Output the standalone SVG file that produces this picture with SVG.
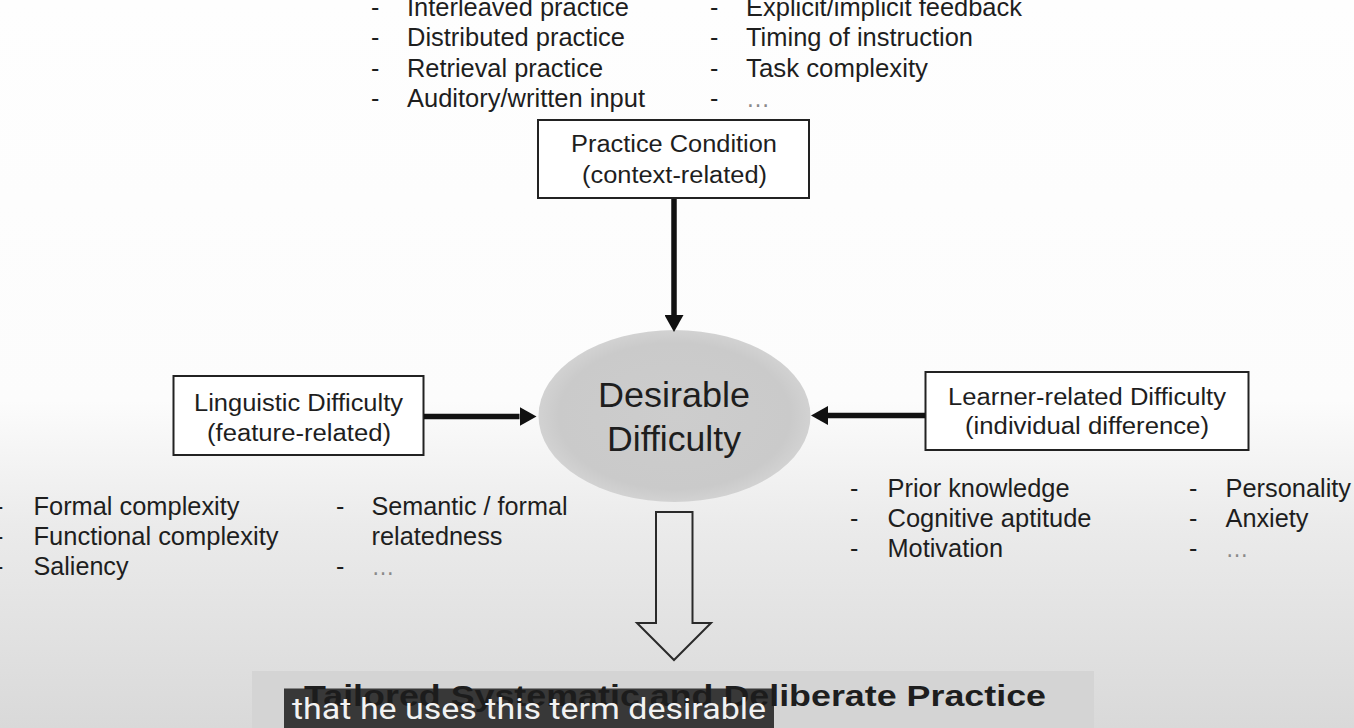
<svg xmlns="http://www.w3.org/2000/svg" width="1354" height="728" viewBox="0 0 1354 728">
<defs>
<linearGradient id="bg" x1="0" y1="0" x2="0" y2="1">
<stop offset="0" stop-color="#fefefe"/>
<stop offset="0.55" stop-color="#fcfcfc"/>
<stop offset="0.72" stop-color="#ebebeb"/>
<stop offset="1" stop-color="#d9d9d9"/>
</linearGradient>
<radialGradient id="ell" cx="0.5" cy="0.5" r="0.5">
<stop offset="0" stop-color="#cdcdcd"/>
<stop offset="0.85" stop-color="#cacaca"/>
<stop offset="1" stop-color="#d2d2d2"/>
</radialGradient>
<marker id="head" markerUnits="userSpaceOnUse" markerWidth="17" markerHeight="19" refX="0" refY="9.5" orient="auto">
<path d="M0,0 L17,9.5 L0,19 Z" fill="#111"/>
</marker>
</defs>
<style>
.t{font-family:"Liberation Sans",Arial,sans-serif;fill:#1e1e1e;}
.l{font-size:25px;}
.b{font-size:23.5px;}
.m{text-anchor:middle;}
.box{fill:#ffffff;stroke:#222;stroke-width:2;}
.dots{fill:#8a8a8a;}
.conn{stroke:#111;stroke-width:5.5;fill:none;}
</style>
<rect x="0" y="0" width="1354" height="728" fill="url(#bg)"/>

<g id="practice-list">
<text class="t l" x="371" y="15.5">-</text>
<text class="t l" x="407" y="15.5" textLength="222" lengthAdjust="spacingAndGlyphs">Interleaved practice</text>
<text class="t l" x="371" y="46">-</text>
<text class="t l" x="407" y="46" textLength="218" lengthAdjust="spacingAndGlyphs">Distributed practice</text>
<text class="t l" x="371" y="76.5">-</text>
<text class="t l" x="407" y="76.5" textLength="196" lengthAdjust="spacingAndGlyphs">Retrieval practice</text>
<text class="t l" x="371" y="107">-</text>
<text class="t l" x="407" y="107" textLength="238" lengthAdjust="spacingAndGlyphs">Auditory/written input</text>
<text class="t l" x="710" y="15.5">-</text>
<text class="t l" x="746" y="15.5" textLength="276" lengthAdjust="spacingAndGlyphs">Explicit/implicit feedback</text>
<text class="t l" x="710" y="46">-</text>
<text class="t l" x="746" y="46" textLength="227" lengthAdjust="spacingAndGlyphs">Timing of instruction</text>
<text class="t l" x="710" y="76.5">-</text>
<text class="t l" x="746" y="76.5" textLength="182" lengthAdjust="spacingAndGlyphs">Task complexity</text>
<text class="t l" x="710" y="107">-</text>
<text class="t l dots" x="746" y="107" textLength="24" lengthAdjust="spacingAndGlyphs">…</text>
</g>

<g id="practice-condition">
<rect class="box" x="538" y="120" width="271" height="78"/>
<text class="t b m" x="674" y="152" textLength="206" lengthAdjust="spacingAndGlyphs">Practice Condition</text>
<text class="t b m" x="674.5" y="183" textLength="185" lengthAdjust="spacingAndGlyphs">(context-related)</text>
</g>

<g id="linguistic-difficulty">
<rect class="box" x="173.5" y="376" width="250" height="79"/>
<text class="t b m" x="298.5" y="410.5" textLength="209" lengthAdjust="spacingAndGlyphs">Linguistic Difficulty</text>
<text class="t b m" x="299" y="441" textLength="184" lengthAdjust="spacingAndGlyphs">(feature-related)</text>
</g>

<g id="learner-difficulty">
<rect class="box" x="925.5" y="372" width="323" height="78"/>
<text class="t b m" x="1087" y="405" textLength="278" lengthAdjust="spacingAndGlyphs">Learner-related Difficulty</text>
<text class="t b m" x="1087" y="434" textLength="244" lengthAdjust="spacingAndGlyphs">(individual difference)</text>
</g>

<g id="desirable-difficulty">
<ellipse cx="674.5" cy="416" rx="136" ry="86" fill="url(#ell)"/>
<text class="t m" x="674" y="406.5" font-size="35" textLength="152" lengthAdjust="spacingAndGlyphs">Desirable</text>
<text class="t m" x="674" y="450.5" font-size="35" textLength="134" lengthAdjust="spacingAndGlyphs">Difficulty</text>
</g>

<g id="linguistic-list">
<text class="t l" x="-5" y="515">-</text>
<text class="t l" x="33.5" y="515" textLength="206" lengthAdjust="spacingAndGlyphs">Formal complexity</text>
<text class="t l" x="-5" y="545">-</text>
<text class="t l" x="33.5" y="545" textLength="245" lengthAdjust="spacingAndGlyphs">Functional complexity</text>
<text class="t l" x="-5" y="575">-</text>
<text class="t l" x="33.5" y="575" textLength="95" lengthAdjust="spacingAndGlyphs">Saliency</text>
<text class="t l" x="336" y="515">-</text>
<text class="t l" x="371.5" y="515" textLength="196" lengthAdjust="spacingAndGlyphs">Semantic / formal</text>
<text class="t l" x="371.5" y="545" textLength="131" lengthAdjust="spacingAndGlyphs">relatedness</text>
<text class="t l" x="336" y="575">-</text>
<text class="t l dots" x="371.5" y="575" textLength="23" lengthAdjust="spacingAndGlyphs">…</text>
</g>

<g id="learner-list">
<text class="t l" x="850" y="497">-</text>
<text class="t l" x="887.5" y="497" textLength="182" lengthAdjust="spacingAndGlyphs">Prior knowledge</text>
<text class="t l" x="850" y="527">-</text>
<text class="t l" x="887.5" y="527" textLength="204" lengthAdjust="spacingAndGlyphs">Cognitive aptitude</text>
<text class="t l" x="850" y="557">-</text>
<text class="t l" x="887.5" y="557" textLength="115.5" lengthAdjust="spacingAndGlyphs">Motivation</text>
<text class="t l" x="1189" y="497">-</text>
<text class="t l" x="1225.5" y="497" textLength="125.5" lengthAdjust="spacingAndGlyphs">Personality</text>
<text class="t l" x="1189" y="527">-</text>
<text class="t l" x="1225.5" y="527" textLength="83" lengthAdjust="spacingAndGlyphs">Anxiety</text>
<text class="t l" x="1189" y="557">-</text>
<text class="t l dots" x="1225.5" y="557" textLength="23" lengthAdjust="spacingAndGlyphs">…</text>
</g>

<g id="tailored-practice">
<rect x="252" y="671" width="842" height="57" fill="#d4d4d4"/>
<text class="t" x="304" y="705.5" font-size="29" font-weight="bold" fill="#111" textLength="742" lengthAdjust="spacingAndGlyphs">Tailored Systematic and Deliberate Practice</text>
</g>

<g id="connectors">
<line class="conn" x1="674" y1="199" x2="674" y2="315" marker-end="url(#head)"/>
<line class="conn" x1="424" y1="416.5" x2="519.5" y2="416.5" marker-end="url(#head)"/>
<line class="conn" x1="925" y1="415.5" x2="828" y2="415.5" marker-end="url(#head)"/>
<polygon points="656,512 692.5,512 692.5,623 711,623 674,660 637,623 656,623" fill="none" stroke="#2a2a2a" stroke-width="2"/>
</g>

<g id="subtitle">
<rect x="284" y="688.5" width="490" height="39.5" fill="#1c1c1c" fill-opacity="0.85"/>
<text x="292" y="719" font-family="Roboto,'Liberation Sans',sans-serif" font-size="30" fill="#f2f2f2" textLength="474" lengthAdjust="spacingAndGlyphs">that he uses this term desirable</text>
</g>
</svg>
